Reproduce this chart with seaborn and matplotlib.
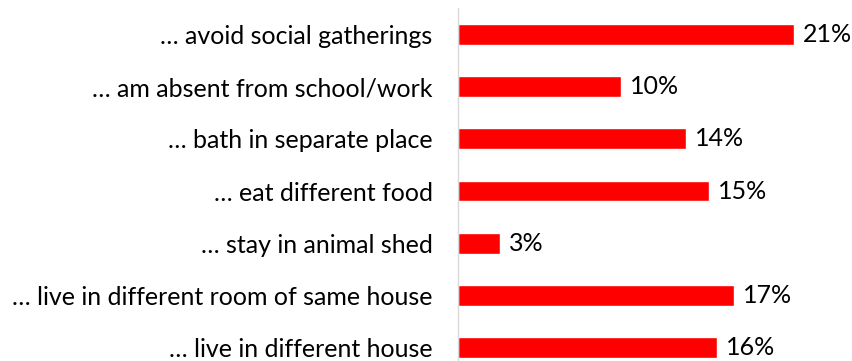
import matplotlib
matplotlib.use("Agg")
import matplotlib.pyplot as plt
import seaborn as sns
import pandas as pd

categories = [
    "… avoid social gatherings",
    "… am absent from school/work",
    "… bath in separate place",
    "… eat different food",
    "… stay in animal shed",
    "… live in different room of same house",
    "… live in different house",
]
values = [20.6, 10.0, 14.0, 15.4, 2.6, 16.9, 15.9]
value_labels = ["21%", "10%", "14%", "15%", "3%", "17%", "16%"]

df = pd.DataFrame({"category": categories, "value": values})

sns.set_theme(style="white")
plt.rcParams["font.family"] = ["Lato", "DejaVu Sans"]

fig = plt.figure(figsize=(8.53, 3.61), dpi=100)
ax = fig.add_axes([0.5364, -0.035, 0.4636, 1.0117])

sns.barplot(data=df, x="value", y="category", orient="h", color="#ff0000",
            saturation=1, width=0.40, ax=ax)

ax.set_xlim(0, 24.2)
ax.set_xlabel("")
ax.set_ylabel("")
ax.set_xticks([])
for s in ["top", "right", "bottom"]:
    ax.spines[s].set_visible(False)
ax.spines["left"].set_color("#d9d9d9")
ax.spines["left"].set_linewidth(1.0)
ax.tick_params(axis="y", length=0, pad=18, labelsize=18, labelcolor="#000000")

for i, (v, lab) in enumerate(zip(values, value_labels)):
    ax.annotate(lab, xy=(v, i), xytext=(6.5, 0), textcoords="offset points",
                va="center", ha="left", fontsize=18, color="#000000")

fig.savefig("out.png", dpi=100)
